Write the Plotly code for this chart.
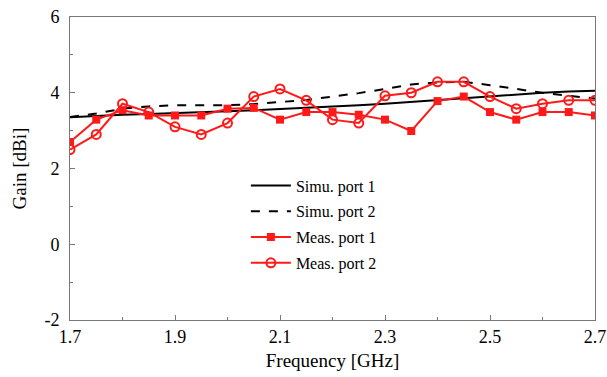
import plotly.graph_objects as go

freq = [1.7, 1.75, 1.8, 1.85, 1.9, 1.95, 2.0, 2.05, 2.1, 2.15, 2.2,
        2.25, 2.3, 2.35, 2.4, 2.45, 2.5, 2.55, 2.6, 2.65, 2.7]
simu_port1 = [3.35, 3.39, 3.42, 3.44, 3.46, 3.48, 3.51, 3.54, 3.57, 3.60, 3.63,
              3.67, 3.71, 3.76, 3.81, 3.87, 3.92, 3.96, 4.00, 4.03, 4.05]
simu_port2 = [3.36, 3.45, 3.58, 3.64, 3.67, 3.67, 3.67, 3.70, 3.75, 3.81, 3.90,
              3.99, 4.10, 4.22, 4.27, 4.29, 4.20, 4.10, 4.00, 3.92, 3.85]
meas_port1 = [2.70, 3.29, 3.54, 3.40, 3.40, 3.40, 3.58, 3.60, 3.29, 3.49, 3.49,
              3.42, 3.29, 2.99, 3.78, 3.90, 3.49, 3.29, 3.49, 3.49, 3.40]
meas_port2 = [2.50, 2.90, 3.71, 3.49, 3.10, 2.90, 3.20, 3.90, 4.10, 3.80, 3.29,
              3.20, 3.92, 4.00, 4.29, 4.29, 3.90, 3.58, 3.71, 3.80, 3.80]
x_ticks = [1.7, 1.9, 2.1, 2.3, 2.5, 2.7]
y_ticks = [-2, 0, 2, 4, 6]

RED = "#ff1a1a"
FONT = "Liberation Serif, Times New Roman, serif"

fig = go.Figure()
fig.add_trace(go.Scatter(x=freq, y=simu_port1, mode="lines", name="Simu. port 1",
                         legendgroup="a", line=dict(color="black", width=2)))
fig.add_trace(go.Scatter(x=freq, y=simu_port2, mode="lines", name="Simu. port 2",
                         legendgroup="b", line=dict(color="black", width=2, dash="dash")))
fig.add_trace(go.Scatter(x=freq, y=meas_port1, mode="lines+markers", name="Meas. port 1",
                         legendgroup="c", line=dict(color=RED, width=2),
                         marker=dict(symbol="square", size=8, color=RED)))
fig.add_trace(go.Scatter(x=freq, y=meas_port2, mode="lines+markers", name="Meas. port 2",
                         legendgroup="d", line=dict(color=RED, width=2),
                         marker=dict(symbol="circle-open", size=9, color=RED,
                                     line=dict(width=2, color=RED))))

axis_common = dict(showgrid=False, zeroline=False, showline=True, mirror=True,
                   linecolor="#777777", linewidth=1, ticks="inside", ticklen=5,
                   tickcolor="#777777", tickfont=dict(family=FONT, size=18, color="black"))

fig.update_xaxes(range=[1.7, 2.7], tickvals=x_ticks, ticktext=[str(v) for v in x_ticks],
                 minor=dict(dtick=0.1, ticks="inside", ticklen=3, tickcolor="#777777"),
                 title=dict(text="Frequency [GHz]", font=dict(family=FONT, size=19, color="black"),
                            standoff=8),
                 ticklabelstandoff=0,
                 **axis_common)
fig.update_yaxes(range=[-2, 6], tickvals=y_ticks, ticktext=[str(v) for v in y_ticks],
                 minor=dict(dtick=1, ticks="inside", ticklen=3, tickcolor="#777777"),
                 title=dict(text="Gain [dBi]", font=dict(family=FONT, size=19, color="black"),
                            standoff=12),
                 ticklabelstandoff=6,
                 **axis_common)

fig.update_layout(
    width=607, height=377,
    margin=dict(l=70, r=12, t=17, b=57, autoexpand=False),
    paper_bgcolor="white", plot_bgcolor="white",
    showlegend=True,
    legend=dict(x=0.335, y=0.50, xanchor="left", yanchor="top",
                bgcolor="rgba(0,0,0,0)", font=dict(family=FONT, size=16, color="black"),
                tracegroupgap=2, itemwidth=40),
)

fig.write_html("out.html", config={"displayModeBar": False},
               post_script="document.body.style.margin='0';document.body.style.padding='0';")
